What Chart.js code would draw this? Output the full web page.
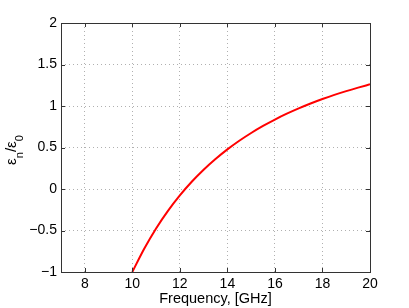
<!DOCTYPE html>
<html>
<head>
<meta charset="utf-8">
<script src="https://cdn.jsdelivr.net/npm/chart.js@4.4.1/dist/chart.umd.min.js"></script>
<style>
  html, body { margin: 0; padding: 0; background: #fff; }
</style>
</head>
<body>
<canvas id="epsChart" width="409" height="308"></canvas>
<script>
// values
const freqGHz = [10, 10.5, 11, 11.5, 12, 12.5, 13, 13.5, 14, 14.5, 15, 15.5, 16, 16.5, 17, 17.5, 18, 18.5, 19, 19.5, 20];
const epsRatio = [-1.0, -0.72, -0.475, -0.263, -0.077, 0.087, 0.232, 0.361, 0.477, 0.581, 0.675, 0.76, 0.837, 0.907, 0.971, 1.03, 1.084, 1.134, 1.179, 1.221, 1.261];
const xTicks = [8, 10, 12, 14, 16, 18, 20];
const yTicks = [-1, -0.5, 0, 0.5, 1, 1.5, 2];

const FONT = "Liberation Sans, Arial, Helvetica, sans-serif";

// frame, inward ticks and axis titles (MATLAB look)
const framePlugin = {
  id: "frame",
  afterDraw(chart) {
    const { ctx, chartArea: a, scales } = chart;
    ctx.save();
    ctx.strokeStyle = "#333";
    ctx.lineWidth = 1;
    ctx.strokeRect(a.left + 0.5, a.top + 0.5, a.right - a.left, a.bottom - a.top);

    ctx.beginPath();
    xTicks.forEach(v => {
      const px = Math.round(scales.x.getPixelForValue(v)) + 0.5;
      ctx.moveTo(px, a.bottom); ctx.lineTo(px, a.bottom - 4);
      ctx.moveTo(px, a.top); ctx.lineTo(px, a.top + 4);
    });
    yTicks.forEach(v => {
      const py = Math.round(scales.y.getPixelForValue(v)) + 0.5;
      ctx.moveTo(a.left, py); ctx.lineTo(a.left + 4, py);
      ctx.moveTo(a.right, py); ctx.lineTo(a.right - 4, py);
    });
    ctx.stroke();

    ctx.fillStyle = "#000";
    ctx.font = "14.5px " + FONT;
    ctx.textAlign = "center";
    ctx.textBaseline = "alphabetic";
    ctx.fillText("Frequency, [GHz]", (a.left + a.right) / 2, 303);

    // y title: ε_n/ε_0
    const parts = [
      { t: "\u03B5", sub: false }, { t: "n", sub: true },
      { t: "/\u03B5", sub: false }, { t: "0", sub: true }
    ];
    const mainFont = "15px " + FONT, subFont = "11px " + FONT;
    let total = 0;
    parts.forEach(p => { ctx.font = p.sub ? subFont : mainFont; p.w = ctx.measureText(p.t).width; total += p.w; });
    ctx.translate(16, 150);
    ctx.rotate(-Math.PI / 2);
    ctx.textAlign = "left";
    let x = -total / 2;
    parts.forEach(p => {
      ctx.font = p.sub ? subFont : mainFont;
      ctx.fillText(p.t, x, p.sub ? 7 : 0);
      x += p.w;
    });
    ctx.restore();
  }
};

const fmt = v => (v < 0 ? "\u2212" + Math.abs(v) : String(v));

new Chart(document.getElementById("epsChart").getContext("2d"), {
  type: "line",
  data: {
    datasets: [{
      data: freqGHz.map((f, i) => ({ x: f, y: epsRatio[i] })),
      borderColor: "#ff0000",
      borderWidth: 2,
      pointRadius: 0,
      cubicInterpolationMode: "monotone",
      fill: false
    }]
  },
  options: {
    responsive: false,
    animation: false,
    devicePixelRatio: 1,
    layout: { padding: { top: 23, right: 39, left: 0, bottom: 0 } },
    plugins: { legend: { display: false }, tooltip: { enabled: false } },
    scales: {
      x: {
        type: "linear",
        min: 7, max: 20,
        afterBuildTicks: s => { s.ticks = xTicks.map(v => ({ value: v })); },
        afterFit: s => { s.height = 36; },
        grid: { color: "#b0b0b0", drawTicks: false, lineWidth: 1 },
        border: { display: false, dash: [1, 3] },
        ticks: { color: "#000", font: { size: 14, family: FONT }, padding: 4, maxRotation: 0, callback: v => fmt(v) }
      },
      y: {
        min: -1, max: 2,
        afterBuildTicks: s => { s.ticks = yTicks.map(v => ({ value: v })); },
        afterFit: s => { s.width = 61; },
        grid: { color: "#b0b0b0", drawTicks: false, lineWidth: 1 },
        border: { display: false, dash: [1, 3] },
        ticks: { color: "#000", font: { size: 14, family: FONT }, padding: 4, callback: v => fmt(v) }
      }
    }
  },
  plugins: [framePlugin]
});
</script>
</body>
</html>
